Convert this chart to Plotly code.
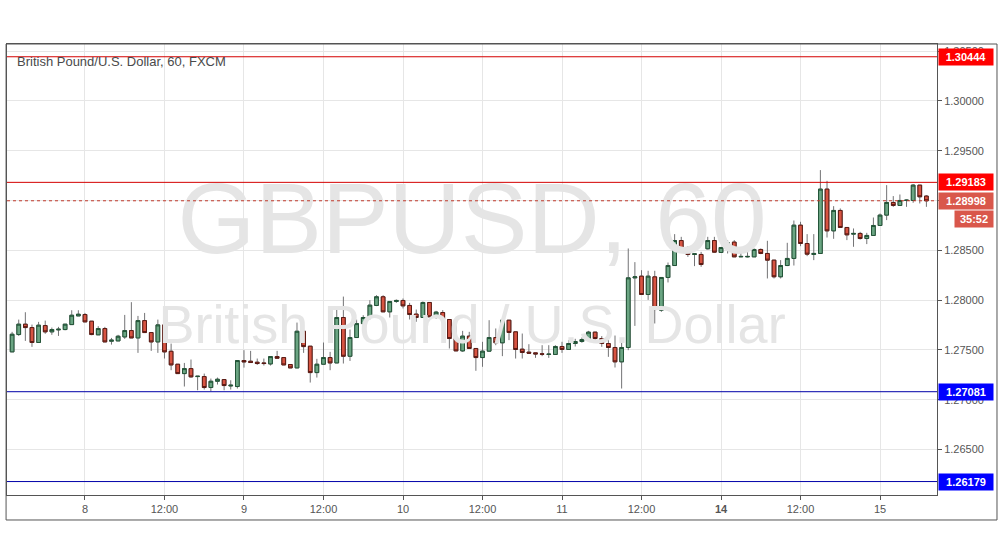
import plotly.graph_objects as go

# ---------------- data (GBP/USD, 60-minute bars) ----------------
bar_index = list(range(-11, 128))  # hourly bar position; 0 = "8" 00:00, weekend gap skipped

opens = [1.27481,1.27655,1.27759,1.27725,1.27575,1.27745,1.27682,1.27702,1.27705,1.27755,
         1.27842,1.27856,1.27789,1.27652,1.27715,1.27588,1.27591,1.27631,1.27695,1.27621,
         1.27795,1.27675,1.27581,1.27752,1.27487,1.27357,1.27263,1.27313,1.27233,1.27233,
         1.27123,1.27186,1.27203,1.27139,1.27133,1.27394,1.27387,1.27377,1.27370,1.27360,
         1.27434,1.27424,1.27354,1.27320,1.27688,1.27538,1.27273,1.27357,1.27424,1.27370,
         1.27826,1.27437,1.27625,1.27765,1.27826,1.27947,1.28034,1.27883,1.27987,1.27997,
         1.27947,1.27860,1.27826,1.27977,1.27833,1.27876,1.27806,1.27615,1.27491,1.27639,
         1.27515,1.27424,1.27488,1.27625,1.27572,1.27799,1.27682,1.27508,1.27478,1.27471,
         1.27461,1.27455,1.27455,1.27535,1.27505,1.27565,1.27585,1.27605,1.27679,1.27615,
         1.27565,1.27525,1.27381,1.27525,1.28224,1.28241,1.28057,1.28234,1.27900,1.28228,
         1.28348,1.28599,1.28509,1.28459,1.28459,1.28516,1.28599,1.28479,1.28529,1.28583,
         1.28435,1.28435,1.28435,1.28509,1.28469,1.28402,1.28235,1.28348,1.28419,1.28753,
         1.28569,1.28459,1.28469,1.29115,1.28696,1.28901,1.28730,1.28663,1.28670,1.28619,
         1.28650,1.28750,1.28854,1.28981,1.28951,1.29001,1.29001,1.29155,1.29045]
highs = [1.27682,1.27805,1.27879,1.27755,1.27782,1.27795,1.27725,1.27732,1.27759,1.27899,
         1.27899,1.27872,1.27789,1.27739,1.27732,1.27621,1.27652,1.27852,1.27980,1.27842,
         1.27872,1.27675,1.27805,1.27805,1.27564,1.27357,1.27370,1.27404,1.27236,1.27263,
         1.27213,1.27223,1.27203,1.27196,1.27394,1.27498,1.27491,1.27414,1.27414,1.27434,
         1.27491,1.27424,1.27354,1.27775,1.27698,1.27538,1.27411,1.27575,1.27481,1.27909,
         1.28036,1.27705,1.27805,1.27849,1.28000,1.28050,1.28050,1.27987,1.28007,1.28017,
         1.27973,1.27906,1.27987,1.27977,1.27893,1.27900,1.27806,1.27756,1.27692,1.27682,
         1.27515,1.27582,1.27799,1.27716,1.27816,1.27799,1.27682,1.27665,1.27558,1.27471,
         1.27548,1.27548,1.27548,1.27582,1.27598,1.27612,1.27625,1.27692,1.27682,1.27639,
         1.27625,1.27645,1.27598,1.28519,1.28382,1.28301,1.28295,1.28295,1.28228,1.28378,
         1.28663,1.28636,1.28542,1.28465,1.28485,1.28636,1.28636,1.28529,1.28603,1.28603,
         1.28509,1.28509,1.28519,1.28519,1.28596,1.28402,1.28402,1.28576,1.28800,1.28787,
         1.28663,1.28663,1.29306,1.29198,1.28944,1.28921,1.28730,1.28720,1.28686,1.28676,
         1.28830,1.28870,1.29155,1.29045,1.29061,1.29011,1.29165,1.29155,1.29055]
lows = [1.27481,1.27641,1.27591,1.27531,1.27575,1.27662,1.27652,1.27641,1.27698,1.27755,
        1.27842,1.27782,1.27648,1.27652,1.27581,1.27554,1.27591,1.27611,1.27621,1.27471,
        1.27675,1.27491,1.27471,1.27414,1.27297,1.27263,1.27133,1.27223,1.27096,1.27103,
        1.27086,1.27153,1.27096,1.27103,1.27113,1.27323,1.27374,1.27350,1.27344,1.27344,
        1.27417,1.27350,1.27320,1.27320,1.27471,1.27173,1.27223,1.27357,1.27297,1.27370,
        1.27364,1.27390,1.27625,1.27745,1.27806,1.27940,1.27883,1.27826,1.27973,1.27917,
        1.27806,1.27783,1.27826,1.27833,1.27813,1.27806,1.27515,1.27491,1.27481,1.27515,
        1.27291,1.27331,1.27488,1.27548,1.27438,1.27599,1.27414,1.27414,1.27461,1.27421,
        1.27438,1.27421,1.27455,1.27471,1.27505,1.27535,1.27572,1.27592,1.27572,1.27532,
        1.27431,1.27324,1.27113,1.27498,1.27742,1.28057,1.28003,1.27766,1.27883,1.28178,
        1.28348,1.28499,1.28435,1.28342,1.28335,1.28509,1.28475,1.28479,1.28469,1.28435,
        1.28435,1.28429,1.28435,1.28462,1.28218,1.28218,1.28218,1.28342,1.28348,1.28542,
        1.28442,1.28402,1.28469,1.28629,1.28616,1.28730,1.28603,1.28536,1.28609,1.28563,
        1.28650,1.28750,1.28804,1.28937,1.28951,1.28937,1.28978,1.28971,1.28937]
closes = [1.27658,1.27759,1.27725,1.27575,1.27749,1.27682,1.27705,1.27708,1.27759,1.27849,
          1.27859,1.27782,1.27655,1.27715,1.27581,1.27598,1.27638,1.27695,1.27621,1.27795,
          1.27675,1.27581,1.27752,1.27481,1.27350,1.27263,1.27313,1.27230,1.27236,1.27123,
          1.27186,1.27206,1.27143,1.27146,1.27394,1.27380,1.27374,1.27364,1.27364,1.27434,
          1.27417,1.27350,1.27320,1.27688,1.27534,1.27273,1.27357,1.27424,1.27370,1.27826,
          1.27437,1.27625,1.27765,1.27826,1.27950,1.28034,1.27883,1.27987,1.27997,1.27943,
          1.27856,1.27826,1.27977,1.27833,1.27880,1.27806,1.27615,1.27491,1.27639,1.27515,
          1.27424,1.27488,1.27625,1.27572,1.27799,1.27676,1.27505,1.27475,1.27468,1.27461,
          1.27458,1.27458,1.27535,1.27505,1.27565,1.27585,1.27605,1.27679,1.27615,1.27565,
          1.27525,1.27381,1.27525,1.28224,1.28234,1.28057,1.28241,1.27906,1.28228,1.28348,
          1.28599,1.28509,1.28459,1.28465,1.28358,1.28599,1.28482,1.28529,1.28576,1.28435,
          1.28439,1.28439,1.28509,1.28469,1.28402,1.28235,1.28348,1.28419,1.28753,1.28569,
          1.28462,1.28469,1.29115,1.28696,1.28901,1.28730,1.28656,1.28670,1.28619,1.28650,
          1.28750,1.28854,1.28981,1.28951,1.29001,1.29004,1.29155,1.29038,1.28998]

tick_positions = [0, 12, 24, 36, 48, 60, 72, 84, 96, 108, 120]
tick_labels = ["8", "12:00", "9", "12:00", "10", "12:00", "11", "12:00", "<b>14</b>", "12:00", "15"]

red_levels = [1.30444, 1.29183]
blue_levels = [1.27081, 1.26179]
last_price = 1.28998
countdown = "35:52"
symbol_title = "British Pound/U.S. Dollar, 60, FXCM"
wm_big = "GBPUSD, 60"
wm_small = "British Pound / U.S. Dollar"

# ---------------- styling ----------------
UP_FILL, UP_LINE = "#6ba583", "#225437"
DN_FILL, DN_LINE = "#d75442", "#5b1a13"
WICK = "#737375"
GRID = "#e6e6e6"
AX = "#555555"
FONT = "Arial, Liberation Sans, sans-serif"

x_range = [-11.77, 128.6]
y_range = [1.26044, 1.30572]

fig = go.Figure()

# watermark (drawn first, below candles)
xm = (x_range[0] + x_range[1]) / 2
fig.add_trace(go.Scatter(
    x=[xm, xm],
    y=[y_range[0] + 0.592 * (y_range[1] - y_range[0]),
       y_range[0] + 0.366 * (y_range[1] - y_range[0])],
    mode="text", text=[wm_big, wm_small],
    textfont=dict(size=[100, 54], color="#e5e5e5", family=FONT),
    textposition="middle center", hoverinfo="skip", showlegend=False))

# wicks (full range, grey)
fig.add_trace(go.Candlestick(
    x=bar_index, open=opens, high=highs, low=lows, close=closes,
    increasing=dict(line=dict(color=WICK, width=1), fillcolor=WICK),
    decreasing=dict(line=dict(color=WICK, width=1), fillcolor=WICK),
    whiskerwidth=0, showlegend=False, hoverinfo="skip"))

# bodies
body_hi = [max(o, c) for o, c in zip(opens, closes)]
body_lo = [min(o, c) for o, c in zip(opens, closes)]
fig.add_trace(go.Candlestick(
    x=bar_index, open=opens, high=body_hi, low=body_lo, close=closes,
    increasing=dict(line=dict(color=UP_LINE, width=1), fillcolor=UP_FILL),
    decreasing=dict(line=dict(color=DN_LINE, width=1), fillcolor=DN_FILL),
    whiskerwidth=0, showlegend=False))

shapes = []
for lv in red_levels:
    shapes.append(dict(type="line", xref="paper", x0=0, x1=1, yref="y", y0=lv, y1=lv,
                       line=dict(color="#d40000", width=1)))
for lv in blue_levels:
    shapes.append(dict(type="line", xref="paper", x0=0, x1=1, yref="y", y0=lv, y1=lv,
                       line=dict(color="#0000a8", width=1)))
shapes.append(dict(type="line", xref="paper", x0=0, x1=1, yref="y", y0=last_price, y1=last_price,
                   line=dict(color="#c0392b", width=1, dash="dot")))
# outer frame
shapes.append(dict(type="rect", xref="paper", yref="paper", x0=-0.001, x1=1.0645,
                   y0=-0.0554, y1=1.0, line=dict(color=AX, width=1), layer="above"))

annotations = []
def price_box(val, bg, text=None, yshift=0, xshift=1, width=52):
    annotations.append(dict(
        xref="paper", x=1, xanchor="left", xshift=xshift,
        yref="y", y=val, yanchor="middle", yshift=yshift,
        text="<b>%s</b>" % (text if text is not None else "%.5f" % val),
        font=dict(color="white", size=11, family=FONT),
        bgcolor=bg, width=width, height=14, borderpad=1, showarrow=False, align="center"))

for lv in red_levels:
    price_box(lv, "#ff0000")
for lv in blue_levels:
    price_box(lv, "#0000ff")
price_box(last_price, "#d9574b")
price_box(last_price, "#d9574b", text=countdown, yshift=-18, xshift=17, width=36)

annotations.append(dict(xref="paper", yref="paper", x=0.0086, y=0.962, xanchor="left",
                        yanchor="middle", text=symbol_title, showarrow=False,
                        font=dict(size=13, color="#4a4a4a", family=FONT)))

fig.update_layout(
    width=1002, height=557,
    margin=dict(l=7, r=65, t=44, b=62),
    paper_bgcolor="white", plot_bgcolor="white",
    shapes=shapes, annotations=annotations,
    showlegend=False, hovermode=False, boxgap=0.2,
    xaxis=dict(range=x_range, tickmode="array", tickvals=tick_positions, ticktext=tick_labels,
               showgrid=True, gridcolor=GRID, gridwidth=1, zeroline=False,
               showline=True, linecolor=AX, linewidth=1, mirror=True,
               ticks="outside", ticklen=4, tickcolor=AX,
               tickfont=dict(size=11, color=AX, family=FONT),
               rangeslider=dict(visible=False), fixedrange=True),
    yaxis=dict(range=y_range, side="right", dtick=0.005, tick0=1.25, tickformat=".5f",
               showgrid=True, gridcolor=GRID, gridwidth=1, zeroline=False,
               showline=True, linecolor=AX, linewidth=1, mirror=True,
               ticks="outside", ticklen=4, tickcolor=AX,
               tickfont=dict(size=11, color=AX, family=FONT), fixedrange=True),
)

fig.write_html("out.html", config={"displayModeBar": False},
               post_script="document.body.style.margin='0';document.body.style.overflow='hidden';")
